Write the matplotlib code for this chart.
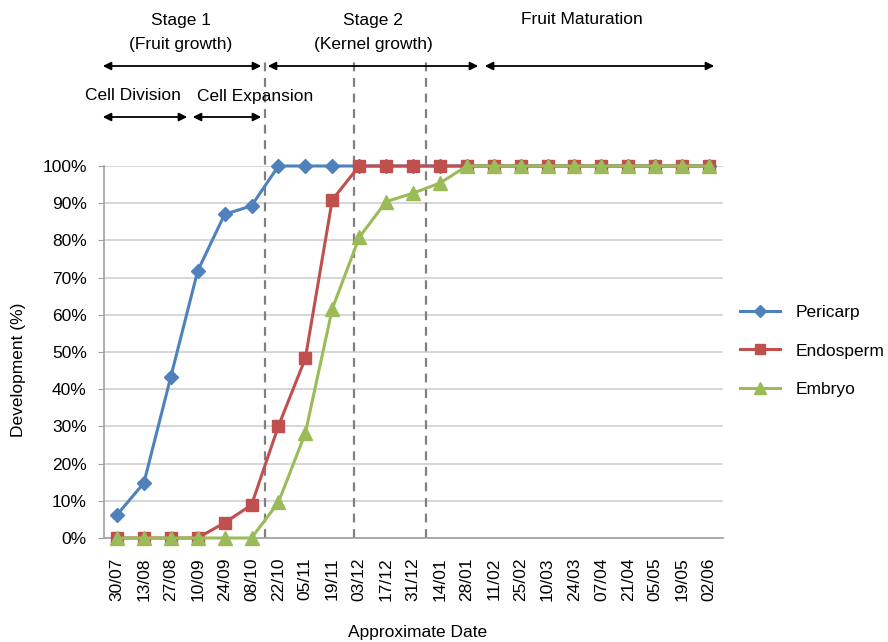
import matplotlib
matplotlib.use("Agg")
import matplotlib.pyplot as plt
from matplotlib.ticker import FuncFormatter

plt.rcParams['font.family'] = ['Liberation Sans', 'DejaVu Sans']

dates = ["30/07", "13/08", "27/08", "10/09", "24/09", "08/10", "22/10", "05/11",
         "19/11", "03/12", "17/12", "31/12", "14/01", "28/01", "11/02", "25/02",
         "10/03", "24/03", "07/04", "21/04", "05/05", "19/05", "02/06"]
pericarp = [6.2, 14.8, 43.3, 71.8, 87, 89.3, 100, 100, 100, 100, 100, 100, 100, 100,
            100, 100, 100, 100, 100, 100, 100, 100, 100]
endosperm = [0, 0, 0, 0, 4.1, 8.9, 30.1, 48.3, 90.9, 100, 100, 100, 100, 100,
             100, 100, 100, 100, 100, 100, 100, 100, 100]
embryo = [0, 0, 0, 0, 0, 0, 9.6, 28.2, 61.6, 80.8, 90.4, 92.7, 95.4, 100,
          100, 100, 100, 100, 100, 100, 100, 100, 100]
stage_lines = [5.5, 8.8, 11.5]
yticks = list(range(0, 101, 10))

W, H = 888, 642
fig = plt.figure(figsize=(W / 100, H / 100), dpi=100)
ax = fig.add_axes([103.5 / W, 1 - 538 / H, 619 / W, 372 / H])

def fx(px):
    return px / W

def fy(py):
    return 1 - py / H

x = list(range(len(dates)))
fs = 12.5
ax.plot(x, pericarp, color='#4F81BD', lw=2.2, marker='D', ms=7, label='Pericarp', clip_on=False, zorder=3)
ax.plot(x, endosperm, color='#C0504D', lw=2.2, marker='s', ms=9, label='Endosperm', clip_on=False, zorder=4)
ax.plot(x, embryo, color='#9BBB59', lw=2.2, marker='^', ms=9.5, label='Embryo', clip_on=False, zorder=5)

ax.set_xlim(-0.5, len(dates) - 0.5)
ax.set_ylim(0, 100)
ax.set_yticks(yticks)
ax.yaxis.set_major_formatter(FuncFormatter(lambda v, p: f"{int(v)}%"))
ax.set_xticks(x)
ax.set_xticklabels(dates, rotation=90, fontsize=fs)
ax.tick_params(axis='x', length=0, pad=14)
ax.tick_params(axis='y', labelsize=fs, length=4, color='#A0A0A0', pad=8)
ax.grid(axis='y', color='#D0D0D0', lw=1.2, zorder=0)
ax.set_axisbelow(True)
for s in ['top', 'right']:
    ax.spines[s].set_visible(False)
for s in ['left', 'bottom']:
    ax.spines[s].set_color('#A0A0A0')
    ax.spines[s].set_linewidth(1.2)

top_frac = (538 - 62) / 372
for xv in stage_lines:
    ax.axvline(xv, ymin=0, ymax=top_frac, color='#808080', lw=1.6, ls=(0, (4, 3)),
               clip_on=False, zorder=2)

fig.text(fx(18), fy(370), "Development (%)", rotation=90, ha='center', va='center', fontsize=fs)
fig.text(fx(418), fy(632), "Approximate Date", ha='center', va='center', fontsize=fs)

def arrow(x0, x1, y):
    fig.patches.append(matplotlib.patches.FancyArrowPatch(
        (fx(x0), fy(y)), (fx(x1), fy(y)), transform=fig.transFigure,
        arrowstyle='<|-|>', mutation_scale=12, color='black', lw=1.3))

arrow(100, 264, 66)
arrow(265, 481, 66)
arrow(482, 717, 66)
arrow(100, 190, 117)
arrow(190, 264, 117)

for t, cx, cy in [("Stage 1", 181, 20), ("(Fruit growth)", 181, 44),
                  ("Stage 2", 373, 20), ("(Kernel growth)", 373, 44),
                  ("Fruit Maturation", 582, 20),
                  ("Cell Division", 133, 96), ("Cell Expansion", 255, 96)]:
    fig.text(fx(cx), fy(cy), t, ha='center', va='center', fontsize=fs)

fig.legend(loc='center left', bbox_to_anchor=(fx(740), fy(351)), frameon=False,
           fontsize=fs, handlelength=2.3, handletextpad=0.9, labelspacing=1.35,
           borderpad=0, borderaxespad=0, markerscale=0.85)

fig.savefig("out.png", dpi=100)
